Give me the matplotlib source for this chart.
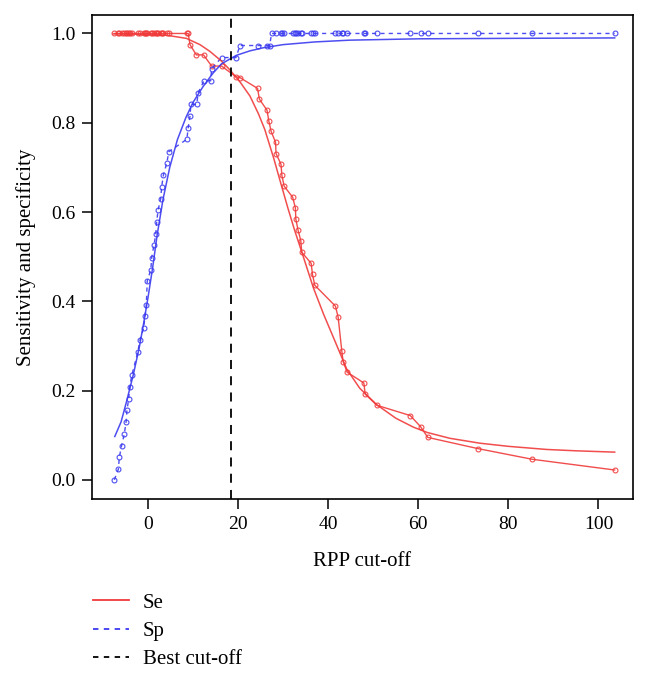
import matplotlib
matplotlib.use("Agg")
import matplotlib.pyplot as plt
from matplotlib.lines import Line2D

plt.rcParams['font.family'] = ['Liberation Serif', 'DejaVu Serif']

# sensitivity (Se) at each cut-off
se_x = [-7.5, -6.6, -6.4, -5.9, -5.3, -4.9, -4.7, -4.3, -4.1, -3.6, -2.3, -1.8, -1.0, -0.7,
        -0.4, -0.2, 0.6, 0.8, 1.3, 1.7, 1.9, 2.2, 2.8, 3.0, 3.4, 4.15, 4.6, 8.6, 8.9,
        9.3, 10.7, 12.3, 14.1, 16.3, 19.5, 20.4, 24.3, 24.7, 26.4, 26.8, 27.3, 28.3, 28.4,
        29.5, 29.7, 30.2, 32.1, 32.7, 32.8, 33.3, 33.9, 34.1, 36.2, 36.5, 37.0, 41.6, 42.2,
        43.0, 43.3, 44.2, 47.9, 48.2, 50.8, 58.2, 60.5, 62.1, 73.2, 85.3, 103.6]
se_y = [1.0, 1.0, 1.0, 1.0, 1.0, 1.0, 1.0, 1.0, 1.0, 1.0, 1.0, 1.0, 1.0, 1.0,
        1.0, 1.0, 1.0, 1.0, 1.0, 1.0, 1.0, 1.0, 1.0, 1.0, 1.0, 1.0, 1.0, 1.0, 1.0,
        0.975, 0.952, 0.952, 0.927, 0.927, 0.903, 0.901, 0.877, 0.853, 0.828, 0.804, 0.781, 0.756, 0.731,
        0.707, 0.682, 0.658, 0.633, 0.609, 0.584, 0.559, 0.536, 0.510, 0.485, 0.460, 0.436, 0.389, 0.364,
        0.289, 0.265, 0.241, 0.217, 0.192, 0.167, 0.144, 0.119, 0.095, 0.070, 0.046, 0.022]

# specificity (Sp) at each cut-off
sp_x = [-7.5, -6.6, -6.4, -5.9, -5.3, -4.9, -4.7, -4.3, -4.1, -3.6, -2.3, -1.8, -1.0, -0.7,
        -0.4, -0.2, 0.6, 0.8, 1.3, 1.7, 1.9, 2.2, 2.8, 3.0, 3.4, 4.15, 4.6,
        8.6, 8.9, 9.3, 9.5, 10.8, 11.1, 12.4, 13.9, 14.1, 16.3, 19.5, 20.4, 24.4, 26.3, 27.0,
        27.4, 28.4, 29.5, 29.7, 30.2, 32.1, 32.7, 32.8, 33.3, 33.9, 34.1, 36.2, 36.5, 37.0,
        41.6, 42.2, 43.0, 43.3, 44.2, 47.9, 48.2, 50.8, 58.2, 60.5, 62.1, 73.2, 85.3, 103.6]
sp_y = [0.0, 0.024, 0.050, 0.076, 0.102, 0.129, 0.156, 0.182, 0.208, 0.235, 0.286, 0.313, 0.340, 0.366,
        0.392, 0.445, 0.471, 0.498, 0.526, 0.551, 0.577, 0.604, 0.630, 0.656, 0.683, 0.710, 0.735,
        0.763, 0.789, 0.815, 0.841, 0.841, 0.867, 0.894, 0.894, 0.921, 0.946, 0.946, 0.973, 0.973, 0.973, 0.973,
        1.0, 1.0, 1.0, 1.0, 1.0, 1.0, 1.0, 1.0, 1.0, 1.0, 1.0, 1.0, 1.0, 1.0,
        1.0, 1.0, 1.0, 1.0, 1.0, 1.0, 1.0, 1.0, 1.0, 1.0, 1.0, 1.0, 1.0, 1.0]

# fitted (smoothed) curves
se_fit_x = [-7.8, 0, 4.1, 8.5, 11.5, 13.7, 16.3, 18.2, 20.5, 22.6, 24.5, 25.9, 27.9, 29.3, 31,
            32.5, 34.1, 36.7, 39, 41.1, 44.1, 47, 50.8, 55, 58.9, 62, 67, 73.7, 80, 88.5, 95, 103.6]
se_fit_y = [0.999, 0.998, 0.996, 0.989, 0.975, 0.96, 0.938, 0.918, 0.89, 0.86, 0.82, 0.785, 0.72, 0.67, 0.61,
            0.56, 0.511, 0.43, 0.37, 0.32, 0.248, 0.205, 0.168, 0.138, 0.118, 0.106, 0.093, 0.082, 0.075, 0.068, 0.065, 0.062]

sp_fit_x = [-7.4, -6, -4.8, -3.3, -2, -1, 0, 1, 2, 3.3, 4.8, 6.5, 8.4, 10, 12.2, 14.4, 16.3, 19.6,
            22.6, 25.6, 30, 37, 44.8, 60, 80, 103.6]
sp_fit_y = [0.097, 0.13, 0.175, 0.235, 0.295, 0.35, 0.41, 0.475, 0.548, 0.628, 0.7, 0.762, 0.812, 0.846,
            0.881, 0.911, 0.932, 0.951, 0.961, 0.968, 0.975, 0.981, 0.985, 0.988, 0.989, 0.990]

best_cutoff = 18.3

red = '#f03a3a'
blue = '#3a3af0'

fig = plt.figure(figsize=(6.48, 6.78), dpi=100)
ax = fig.add_axes([0.1424, 0.264, 0.834, 0.7143])

ax.plot(se_x, se_y, color=red, lw=1.0, marker='o', ms=3.5, mfc='none', mew=0.8, alpha=0.9)
ax.plot(sp_x, sp_y, color=blue, lw=1.0, ls=(0, (3, 3)), marker='o', ms=3.5, mfc='none', mew=0.8, alpha=0.9)
ax.plot(se_fit_x, se_fit_y, color=red, lw=1.1, alpha=0.9)
ax.plot(sp_fit_x, sp_fit_y, color=blue, lw=1.1, alpha=0.9)
ax.axvline(best_cutoff, color='black', lw=1.3, ls=(0, (5, 4)))

ax.set_xlim(-12.4, 107.6)
ax.set_ylim(-0.043, 1.042)
ax.set_xticks([0, 20, 40, 60, 80, 100])
ax.set_yticks([0.0, 0.2, 0.4, 0.6, 0.8, 1.0])
ax.set_yticklabels(['0.0', '0.2', '0.4', '0.6', '0.8', '1.0'])
ax.tick_params(labelsize=14, length=7, width=1.1, pad=5)
for s in ax.spines.values():
    s.set_linewidth(1.2)

ax.set_xlabel('RPP cut-off', fontsize=15, labelpad=14)
ax.set_ylabel('Sensitivity and specificity', fontsize=15, labelpad=11)

handles = [Line2D([], [], color=red, lw=1.3),
           Line2D([], [], color=blue, lw=1.3, ls=(0, (3, 3))),
           Line2D([], [], color='black', lw=1.3, ls=(0, (3, 3)))]
fig.legend(handles, ['Se', 'Sp', 'Best cut-off'], loc='upper left',
           bbox_to_anchor=(0.114, 0.153), frameon=False, fontsize=15,
           handlelength=1.75, handletextpad=0.65, labelspacing=0.42)

fig.savefig('out.png', dpi=100)
